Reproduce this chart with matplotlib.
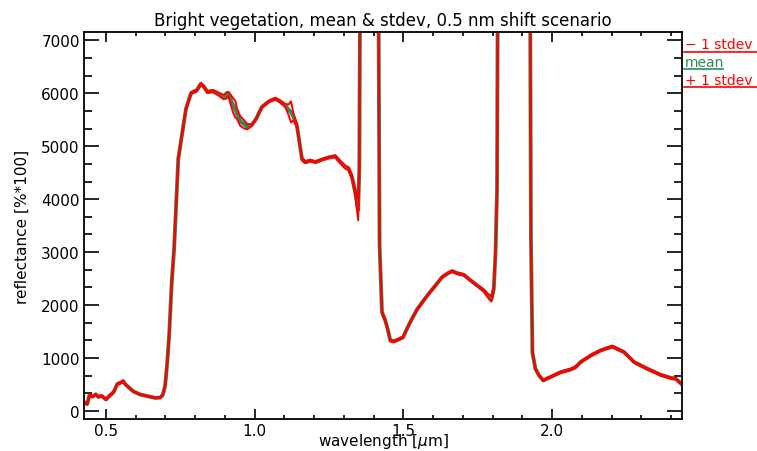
import matplotlib.pyplot as plt
import numpy as np
from matplotlib.lines import Line2D
from matplotlib.ticker import MultipleLocator

# wavelength [um], mean reflectance [%*100], stdev
wl = [0.427, 0.437, 0.444, 0.455, 0.466, 0.474, 0.486, 0.500, 0.513, 0.525,
      0.538, 0.549, 0.558, 0.564, 0.575, 0.592, 0.614, 0.637, 0.665, 0.682,
      0.691, 0.699, 0.706, 0.713, 0.721, 0.729, 0.743, 0.755, 0.769, 0.786,
      0.805, 0.819, 0.830, 0.841, 0.859, 0.878, 0.895, 0.905, 0.912, 0.920,
      0.928, 0.935, 0.940, 0.951, 0.963, 0.975, 0.990, 1.005, 1.024, 1.047,
      1.069, 1.086, 1.103, 1.114, 1.122, 1.131, 1.142, 1.159, 1.170, 1.187,
      1.204, 1.232, 1.254, 1.271, 1.288, 1.305, 1.316, 1.327, 1.338, 1.348,
      1.352, 1.357, 1.413, 1.420, 1.428, 1.439, 1.447, 1.456, 1.467, 1.484,
      1.499, 1.512, 1.529, 1.546, 1.568, 1.585, 1.608, 1.630, 1.647, 1.664,
      1.681, 1.703, 1.726, 1.748, 1.770, 1.787, 1.796, 1.804, 1.810, 1.815,
      1.820, 1.924, 1.929, 1.934, 1.944, 1.956, 1.970, 1.995, 2.029, 2.062,
      2.079, 2.096, 2.130, 2.163, 2.186, 2.203, 2.219, 2.242, 2.276, 2.320,
      2.365, 2.399, 2.416, 2.437]
mean = [160, 130, 290, 270, 310, 265, 280, 215, 290, 350,
        505, 530, 560, 505, 450, 365, 310, 280, 245, 250,
        300, 480, 920, 1490, 2430, 3060, 4760, 5200, 5710, 6005,
        6055, 6180, 6120, 6025, 6045, 5990, 5930, 5960, 5990, 5870,
        5765, 5700, 5620, 5480, 5420, 5370, 5400, 5520, 5740, 5845,
        5900, 5845, 5770, 5690, 5650, 5550, 5390, 4760, 4700, 4730,
        4700, 4760, 4795, 4810, 4700, 4605, 4575, 4420, 4135, 3800,
        4600, 12000, 12000, 3125, 1865, 1710, 1550, 1330, 1310, 1350,
        1390, 1550, 1740, 1915, 2085, 2210, 2370, 2525, 2590, 2640,
        2600, 2570, 2465, 2370, 2275, 2160, 2115, 2305, 3000, 4200,
        12000, 12000, 3300, 1100, 795, 670, 575, 640, 730, 780,
        825, 920, 1045, 1140, 1185, 1215, 1170, 1110, 920, 795,
        680, 620, 605, 500]
stdev = [20, 20, 20, 15, 15, 15, 15, 15, 15, 15,
         15, 15, 15, 15, 10, 10, 10, 10, 10, 10,
         15, 30, 50, 60, 60, 60, 50, 40, 30, 20,
         20, 20, 20, 20, 20, 30, 40, 60, 40, 100,
         140, 160, 100, 90, 80, 50, 20, 15, 15, 15,
         15, 20, 30, 100, 200, 60, 40, 30, 20, 15,
         15, 15, 15, 20, 25, 30, 30, 40, 60, 200,
         200, 0, 0, 30, 30, 20, 20, 20, 15, 15,
         15, 15, 15, 15, 15, 15, 15, 15, 15, 15,
         15, 15, 15, 15, 20, 40, 50, 60, 80, 100,
         0, 0, 60, 40, 20, 15, 15, 15, 15, 15,
         15, 15, 15, 15, 15, 15, 15, 15, 15, 15,
         15, 15, 15, 15]

wl = np.array(wl)
mean = np.array(mean)
stdev = np.array(stdev)

green = '#2e8b57'
red = '#ff0000'

fig = plt.figure(figsize=(7.57, 4.52), dpi=100)
ax = fig.add_axes([84 / 757, 1 - 420 / 452, 598 / 757, 387 / 452])

ax.plot(wl, mean, color=green, lw=2.8)
ax.plot(wl, mean - stdev, color=red, lw=1.4)
ax.plot(wl, mean + stdev, color=red, lw=1.4)

ax.set_xlim(0.426, 2.437)
ax.set_ylim(-155, 7160)

ax.xaxis.set_major_locator(MultipleLocator(0.5))
ax.xaxis.set_minor_locator(MultipleLocator(0.1))
ax.yaxis.set_major_locator(MultipleLocator(1000))
ax.yaxis.set_minor_locator(MultipleLocator(1000 / 3))
ax.xaxis.set_major_formatter(plt.FormatStrFormatter('%.1f'))

ax.tick_params(axis='both', which='both', direction='in', top=True, right=True,
               labelsize=11, width=1.2)
ax.tick_params(axis='x', which='major', length=7, pad=3)
ax.tick_params(axis='x', which='minor', length=3)
ax.tick_params(axis='y', which='major', length=11, pad=3)
ax.tick_params(axis='y', which='minor', length=6)
for s in ax.spines.values():
    s.set_linewidth(1.3)

ax.set_xlabel('wavelength [$\\mu$m]', fontsize=11, labelpad=-5)
ax.set_ylabel('reflectance [%*100]', fontsize=11, labelpad=8)
ax.set_title('Bright vegetation, mean & stdev, 0.5 nm shift scenario',
             fontsize=12, pad=5)

# legend to the right of the plot, IDL style with underlines
x0 = 685 / 757
fig.text(x0, 1 - 45 / 452, '\u2212 1 stdev', color=red, fontsize=10, va='center')
fig.text(x0, 1 - 63 / 452, 'mean', color=green, fontsize=10, va='center')
fig.text(x0, 1 - 81 / 452, '+ 1 stdev', color=red, fontsize=10, va='center')
fig.add_artist(Line2D([684 / 757, 1.0], [1 - 53 / 452] * 2, color=red, lw=1.2))
fig.add_artist(Line2D([684 / 757, 723 / 757], [1 - 70 / 452] * 2, color=green, lw=1.2))
fig.add_artist(Line2D([684 / 757, 1.0], [1 - 88 / 452] * 2, color=red, lw=1.2))

fig.savefig('out.png', dpi=100)
